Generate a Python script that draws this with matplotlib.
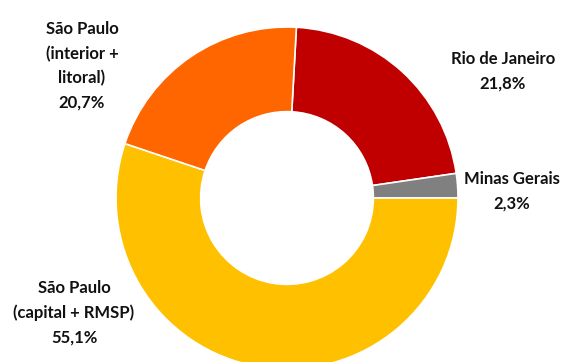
import matplotlib
matplotlib.use("Agg")
import matplotlib.pyplot as plt

# Distribution share by region (%)
regions = ["Rio de Janeiro", "Minas Gerais", "São Paulo\n(capital + RMSP)",
           "São Paulo\n(interior +\nlitoral)"]
shares = [21.8, 2.3, 55.1, 20.7]
share_labels = ["21,8%", "2,3%", "55,1%", "20,7%"]
colors = ["#C00000", "#808080", "#FFC000", "#FF6600"]

W, H = 564, 362
fig = plt.figure(figsize=(W / 100, H / 100), dpi=100)
ax = fig.add_axes([0, 0, 1, 1])

# Minas Gerais closes at the 3 o'clock position, slices run clockwise
start = 360.0 * (shares[0] + shares[1]) / sum(shares)
cx, cy, r = 287, H - 198, 171
ax.pie(shares, colors=colors, startangle=start, counterclock=False,
       radius=r, center=(cx, cy),
       wedgeprops=dict(width=r * 0.495, edgecolor="white", linewidth=1.2))

ax.set_xlim(0, W)
ax.set_ylim(0, H)
ax.set_aspect("equal")
ax.axis("off")

label_pos = [(503, 71), (512, 191), (74, 313), (82, 66)]
font = dict(family=["Lato", "DejaVu Sans"], fontsize=12, fontweight="bold",
            color="#111111", ha="center", va="center", linespacing=1.62)
for name, pct, (x, y) in zip(regions, share_labels, label_pos):
    ax.text(x, H - y, f"{name}\n{pct}", **font)

fig.savefig("out.png", dpi=100)
